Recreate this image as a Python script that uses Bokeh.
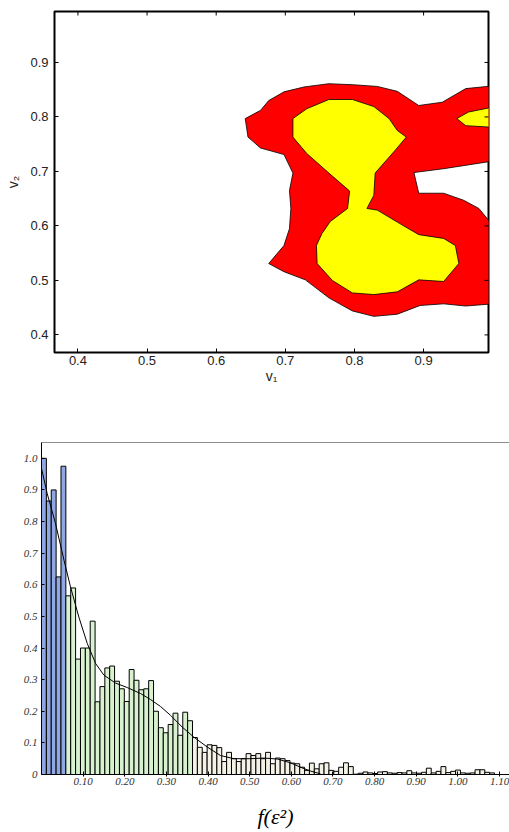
import math
from bokeh.plotting import figure
from bokeh.layouts import column
from bokeh.models import ColumnDataSource, FixedTicker, LinearAxis, PrintfTickFormatter
from bokeh.embed import file_html
from bokeh.resources import INLINE

# ---------------- top chart: contour regions (v1, v2) ----------------
red_x = [0.642, 0.664, 0.676, 0.698, 0.727, 0.763, 0.799, 0.833, 0.862, 0.893, 0.927, 0.961, 1.0, 1.0,
         0.929, 0.886, 0.893, 0.929, 0.958, 0.980, 1.0, 1.0, 0.961, 0.929, 0.895, 0.862, 0.828, 0.797,
         0.763, 0.729, 0.698, 0.676, 0.698, 0.706, 0.708, 0.706, 0.711, 0.698, 0.664, 0.646]
red_y = [0.797, 0.812, 0.830, 0.846, 0.855, 0.861, 0.859, 0.856, 0.847, 0.821, 0.827, 0.852, 0.857, 0.719,
         0.705, 0.698, 0.660, 0.660, 0.647, 0.632, 0.601, 0.457, 0.453, 0.457, 0.454, 0.438, 0.434, 0.444,
         0.468, 0.501, 0.516, 0.531, 0.564, 0.595, 0.632, 0.665, 0.697, 0.731, 0.743, 0.763]

yellow_x = [0.711, 0.731, 0.763, 0.797, 0.828, 0.850, 0.862, 0.875, 0.859, 0.830, 0.828, 0.818, 0.833,
            0.862, 0.893, 0.929, 0.946, 0.951, 0.929, 0.893, 0.862, 0.828, 0.797, 0.768, 0.746, 0.745,
            0.753, 0.765, 0.790, 0.793, 0.763, 0.731, 0.711]
yellow_y = [0.797, 0.815, 0.832, 0.832, 0.819, 0.797, 0.775, 0.763, 0.739, 0.697, 0.656, 0.632, 0.629,
            0.607, 0.584, 0.577, 0.564, 0.531, 0.498, 0.501, 0.479, 0.474, 0.477, 0.500, 0.531, 0.564,
            0.586, 0.608, 0.632, 0.664, 0.697, 0.733, 0.763]

yellow_small_x = [0.948, 0.965, 1.0, 1.0, 0.961]
yellow_small_y = [0.797, 0.809, 0.818, 0.781, 0.784]

v_ticks = [0.4, 0.5, 0.6, 0.7, 0.8, 0.9]

# ---------------- bottom chart: histogram of f(eps^2) ----------------
bin_width = 0.0117
hist_heights = [
    1.000, 0.865, 0.900, 0.625, 0.975, 0.565, 0.590, 0.365, 0.400, 0.400,
    0.485, 0.230, 0.278, 0.337, 0.343, 0.295, 0.271, 0.231, 0.332, 0.298,
    0.268, 0.271, 0.297, 0.200, 0.148, 0.132, 0.158, 0.194, 0.124, 0.197,
    0.170, 0.117, 0.086, 0.070, 0.094, 0.092, 0.085, 0.041, 0.070, 0.050,
    0.041, 0.050, 0.066, 0.060, 0.066, 0.050, 0.070, 0.034, 0.052, 0.050,
    0.044, 0.036, 0.034, 0.023, 0.013, 0.036, 0.018, 0.034, 0.037, 0.013,
    0.010, 0.023, 0.037, 0.025, 0.001, 0.004, 0.008, 0.005, 0.003, 0.008,
    0.009, 0.005, 0.004, 0.006, 0.005, 0.012, 0.005, 0.004, 0.007, 0.020,
    0.005, 0.010, 0.025, 0.006, 0.010, 0.014, 0.005, 0.004, 0.005, 0.015,
    0.015, 0.007, 0.005]
n_blue = 5
n_green = 31

curve_x = [0.0, 0.0136, 0.0336, 0.054, 0.0697, 0.0897, 0.110, 0.130, 0.150, 0.178, 0.206, 0.238,
           0.262, 0.286, 0.310, 0.338, 0.366, 0.398, 0.430, 0.462, 0.502, 0.534, 0.566, 0.598,
           0.622, 0.646, 0.670]
curve_y = [0.968, 0.889, 0.794, 0.678, 0.593, 0.498, 0.414, 0.351, 0.314, 0.289, 0.275, 0.256,
           0.237, 0.215, 0.187, 0.150, 0.118, 0.087, 0.060, 0.050, 0.050, 0.052, 0.049, 0.037,
           0.023, 0.011, 0.002]

x_ticks_hist = [0.1, 0.2, 0.3, 0.4, 0.5, 0.6, 0.7, 0.8, 0.9, 1.0, 1.1]
y_ticks_hist = [0.0, 0.1, 0.2, 0.3, 0.4, 0.5, 0.6, 0.7, 0.8, 0.9, 1.0]

BLUE = "#8fa7e3"
GREEN = "#d8f2d0"
CREAM = "#f4f1e6"

# ================= top figure =================
sans = "Liberation Sans"
X1 = (0.3661, 0.9939)
Y1 = (0.3677, 0.9935)
p1 = figure(width=500, height=400, x_range=X1, y_range=Y1,
            output_backend="svg", toolbar_location=None,
            min_border_left=54, min_border_top=11, min_border_bottom=48, min_border_right=12)
p1.frame_align = False
p1.xgrid.visible = False
p1.ygrid.visible = False
p1.outline_line_color = "black"
p1.outline_line_width = 2
p1.background_fill_color = "white"
p1.border_fill_color = "white"

src = ColumnDataSource(dict(xs=[red_x, yellow_x, yellow_small_x],
                            ys=[red_y, yellow_y, yellow_small_y],
                            color=["#ff0000", "#ffff00", "#ffff00"]))
p1.patches("xs", "ys", source=src, fill_color="color", line_color="black", line_width=0.8)

for ax in (p1.xaxis[0], p1.yaxis[0]):
    ax.ticker = FixedTicker(ticks=v_ticks)
    ax.major_tick_in = 4
    ax.major_tick_out = 0
    ax.minor_tick_line_color = None
    ax.axis_line_color = None
    ax.major_tick_line_color = "black"
    ax.major_label_text_font = sans
    ax.major_label_text_font_size = "13px"
    ax.major_label_text_color = "#222222"
    ax.axis_label_text_font = sans
    ax.axis_label_text_font_size = "14px"
    ax.axis_label_text_font_style = "normal"
    ax.axis_label_text_color = "#222222"
p1.xaxis[0].axis_label = "v₁"
p1.yaxis[0].axis_label = "v₂"
p1.xaxis[0].major_label_standoff = 3
p1.xaxis[0].axis_label_standoff = 0
p1.yaxis[0].major_label_standoff = 6
p1.yaxis[0].axis_label_standoff = 6

# inward tick marks on the top and right edges of the box
p1.scatter(x=v_ticks, y=[Y1[1]] * len(v_ticks), marker="dash", angle=math.pi / 2, size=8,
           line_color="black", line_width=1)
p1.scatter(x=[X1[1]] * len(v_ticks), y=v_ticks, marker="dash", size=8,
           line_color="black", line_width=1)

# ================= bottom figure =================
serif = "Liberation Serif"
p2 = figure(width=509, height=432, x_range=(0, 1.124), y_range=(0, 1.05),
            output_backend="svg", toolbar_location=None,
            min_border_left=41, min_border_top=42, min_border_bottom=58, min_border_right=0)
p2.frame_align = False
p2.xgrid.visible = False
p2.ygrid.visible = False
p2.outline_line_color = None

n = len(hist_heights)
left = [i * bin_width for i in range(n)]
right = [(i + 1) * bin_width for i in range(n)]
colors = [BLUE if i < n_blue else (GREEN if i < n_green else CREAM) for i in range(n)]
hsrc = ColumnDataSource(dict(left=left, right=right, top=hist_heights, bottom=[0] * n, color=colors))
p2.quad(left="left", right="right", top="top", bottom="bottom", source=hsrc,
        fill_color="color", line_color="black", line_width=1)
p2.line(curve_x, curve_y, line_color="black", line_width=1)

xa = p2.xaxis[0]
xa.ticker = FixedTicker(ticks=x_ticks_hist)
xa.formatter = PrintfTickFormatter(format="%.2f")
ya = p2.yaxis[0]
ya.ticker = FixedTicker(ticks=y_ticks_hist)
ya.formatter = PrintfTickFormatter(format="%.1f")
ya.major_label_overrides = {0: "0"}
for ax in (xa, ya):
    ax.minor_tick_line_color = None
    ax.axis_line_color = "black"
    ax.major_tick_line_color = "black"
    ax.major_label_text_font = serif
    ax.major_label_text_font_style = "italic"
    ax.major_label_text_font_size = "11px"
    ax.major_label_text_color = "#333333"
xa.major_tick_in = 3
xa.major_tick_out = 2
xa.major_label_standoff = 1
ya.major_tick_in = 3
ya.major_tick_out = 0
ya.major_label_standoff = 4
xa.axis_label = "f(ε²)"
xa.axis_label_text_font = serif
xa.axis_label_text_font_style = "italic"
xa.axis_label_text_font_size = "22px"
xa.axis_label_text_color = "black"
xa.axis_label_standoff = 16

top_line = LinearAxis(ticker=FixedTicker(ticks=[]), major_tick_in=0, major_tick_out=0,
                      minor_tick_line_color=None, axis_line_color="#8c8c8c")
p2.add_layout(top_line, "above")

layout = column(p1, p2, spacing=0)
open("out.html", "w").write(file_html(layout, INLINE))
